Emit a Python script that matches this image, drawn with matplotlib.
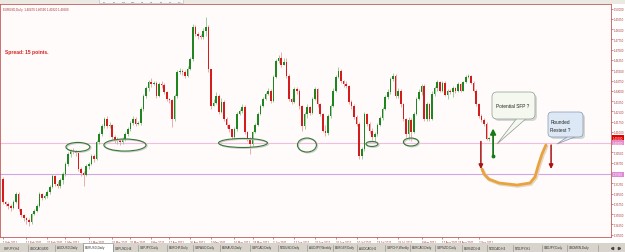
import numpy as np
import pandas as pd
import matplotlib
matplotlib.use('Agg')
from matplotlib import pyplot as plt
from matplotlib.patches import Ellipse, FancyBboxPatch, Rectangle, Polygon
import matplotlib.transforms as mtransforms

plt.rcParams['font.family'] = ['Liberation Sans', 'DejaVu Sans']

# EURUSD daily, Feb - Sep 2011 (broker with Sunday bars)
first_open = 1.3756
closes = [
    1.3588, 1.3574, 1.3559, 1.3545, 1.3588, 1.3647, 1.3537, 1.3490, 1.3470, 1.3460,
    1.3442, 1.3500, 1.3522, 1.3559, 1.3647, 1.3620, 1.3630, 1.3661, 1.3700, 1.3778,
    1.3720, 1.3705, 1.3750, 1.3793, 1.3866, 1.3939, 1.3960, 1.3953, 1.3945, 1.3829,
    1.3800, 1.3785, 1.3851, 1.3866, 1.3924, 1.3905, 1.4026, 1.4085, 1.4143, 1.4194,
    1.4143, 1.4150, 1.4063, 1.4033, 1.4040, 1.4026, 1.4048, 1.4085, 1.4121, 1.4165,
    1.4194, 1.4158, 1.4165, 1.4267, 1.4362, 1.4420, 1.4464, 1.4450, 1.4455, 1.4362,
    1.4450, 1.4440, 1.4391, 1.4340, 1.4330, 1.4194, 1.4362, 1.4537, 1.4545, 1.4537,
    1.4508, 1.4560, 1.4632, 1.4866, 1.4815, 1.4800, 1.4790, 1.4840, 1.4866, 1.4559,
    1.4290, 1.4310, 1.4360, 1.4245, 1.4320, 1.4194, 1.4150, 1.4120, 1.4063, 1.4120,
    1.4231, 1.4252, 1.4282, 1.4099, 1.4048, 1.4012, 1.4099, 1.4150, 1.4231, 1.4289,
    1.4340, 1.4377, 1.4398, 1.4325, 1.4501, 1.4617, 1.4640, 1.4590, 1.4610, 1.4508,
    1.4340, 1.4318, 1.4413, 1.4400, 1.4289, 1.4143, 1.4230, 1.4280, 1.4240, 1.4340,
    1.4413, 1.4300, 1.4231, 1.4110, 1.4090, 1.4216, 1.4289, 1.4400, 1.4501, 1.4544,
    1.4471, 1.4450, 1.4435, 1.4318, 1.4289, 1.4209, 1.4158, 1.3924, 1.3975, 1.4230,
    1.4158, 1.4110, 1.4063, 1.4085, 1.4150, 1.4200, 1.4267, 1.4355, 1.4391, 1.4486,
    1.4508, 1.4362, 1.4400, 1.4300, 1.4194, 1.4085, 1.4190, 1.4099, 1.4230, 1.4340,
    1.4391, 1.4435, 1.4194, 1.4304, 1.4194, 1.4380, 1.4420, 1.4464, 1.4400, 1.4460,
    1.4370, 1.4400, 1.4390, 1.4420, 1.4400, 1.4450, 1.4400, 1.4464, 1.4501, 1.4508,
    1.4460, 1.4400, 1.4304, 1.4216, 1.4190, 1.4158, 1.4047, 1.4058,
]
highs = [
    1.3770, 1.3595, 1.3590, 1.3575, 1.3600, 1.3660, 1.3660, 1.3540, 1.3500, 1.3480,
    1.3470, 1.3510, 1.3535, 1.3575, 1.3660, 1.3655, 1.3645, 1.3675, 1.3715, 1.3795,
    1.3785, 1.3740, 1.3765, 1.3810, 1.3880, 1.3955, 1.3975, 1.3985, 1.3970, 1.3955,
    1.3840, 1.3815, 1.3865, 1.3880, 1.3940, 1.3935, 1.4040, 1.4100, 1.4160, 1.4205,
    1.4215, 1.4170, 1.4160, 1.4075, 1.4060, 1.4050, 1.4065, 1.4100, 1.4135, 1.4180,
    1.4215, 1.4210, 1.4180, 1.4280, 1.4375, 1.4435, 1.4480, 1.4490, 1.4470, 1.4470,
    1.4465, 1.4470, 1.4455, 1.4400, 1.4350, 1.4340, 1.4375, 1.4555, 1.4565, 1.4560,
    1.4550, 1.4580, 1.4650, 1.4888, 1.4880, 1.4830, 1.4815, 1.4860, 1.4939, 1.4880,
    1.4560, 1.4340, 1.4390, 1.4380, 1.4345, 1.4330, 1.4210, 1.4160, 1.4120, 1.4135,
    1.4245, 1.4265, 1.4300, 1.4295, 1.4110, 1.4060, 1.4110, 1.4165, 1.4245, 1.4300,
    1.4355, 1.4390, 1.4420, 1.4410, 1.4515, 1.4630, 1.4660, 1.4683, 1.4640, 1.4640,
    1.4520, 1.4350, 1.4425, 1.4425, 1.4410, 1.4295, 1.4245, 1.4300, 1.4290, 1.4355,
    1.4430, 1.4420, 1.4310, 1.4240, 1.4150, 1.4230, 1.4300, 1.4420, 1.4515, 1.4570,
    1.4559, 1.4480, 1.4470, 1.4440, 1.4330, 1.4300, 1.4220, 1.4170, 1.3990, 1.4245,
    1.4240, 1.4170, 1.4130, 1.4100, 1.4165, 1.4215, 1.4285, 1.4370, 1.4410, 1.4500,
    1.4530, 1.4520, 1.4420, 1.4410, 1.4310, 1.4200, 1.4205, 1.4200, 1.4245, 1.4355,
    1.4410, 1.4450, 1.4450, 1.4320, 1.4310, 1.4395, 1.4435, 1.4480, 1.4475, 1.4475,
    1.4470, 1.4410, 1.4415, 1.4435, 1.4430, 1.4465, 1.4460, 1.4475, 1.4515, 1.4522,
    1.4515, 1.4470, 1.4410, 1.4310, 1.4230, 1.4200, 1.4170, 1.4059,
]
lows = [
    1.3575, 1.3560, 1.3540, 1.3520, 1.3540, 1.3580, 1.3525, 1.3480, 1.3450, 1.3430,
    1.3413, 1.3430, 1.3490, 1.3515, 1.3550, 1.3600, 1.3610, 1.3615, 1.3650, 1.3690,
    1.3705, 1.3690, 1.3690, 1.3720, 1.3780, 1.3850, 1.3920, 1.3935, 1.3925, 1.3815,
    1.3780, 1.3705, 1.3775, 1.3830, 1.3855, 1.3880, 1.3895, 1.4010, 1.4070, 1.4130,
    1.4130, 1.4125, 1.4050, 1.4020, 1.4010, 1.4005, 1.4015, 1.4035, 1.4070, 1.4110,
    1.4150, 1.4140, 1.4150, 1.4150, 1.4255, 1.4350, 1.4400, 1.4430, 1.4440, 1.4350,
    1.4355, 1.4420, 1.4380, 1.4325, 1.4310, 1.4136, 1.4180, 1.4350, 1.4520, 1.4515,
    1.4495, 1.4500, 1.4550, 1.4620, 1.4800, 1.4780, 1.4775, 1.4780, 1.4800, 1.4540,
    1.4270, 1.4290, 1.4300, 1.4230, 1.4240, 1.4180, 1.4130, 1.4100, 1.4048, 1.4055,
    1.4110, 1.4220, 1.4240, 1.4085, 1.4035, 1.3939, 1.4000, 1.4090, 1.4140, 1.4220,
    1.4280, 1.4330, 1.4370, 1.4310, 1.4320, 1.4490, 1.4600, 1.4575, 1.4590, 1.4490,
    1.4325, 1.4300, 1.4310, 1.4380, 1.4270, 1.4106, 1.4120, 1.4200, 1.4225, 1.4230,
    1.4330, 1.4285, 1.4215, 1.4100, 1.4070, 1.4080, 1.4200, 1.4280, 1.4390, 1.4490,
    1.4460, 1.4430, 1.4420, 1.4300, 1.4270, 1.4195, 1.4140, 1.3902, 1.3905, 1.3960,
    1.4140, 1.4090, 1.4040, 1.4026, 1.4070, 1.4140, 1.4190, 1.4260, 1.4340, 1.4380,
    1.4470, 1.4350, 1.4350, 1.4285, 1.4180, 1.4060, 1.4040, 1.4030, 1.4090, 1.4220,
    1.4330, 1.4370, 1.4180, 1.4180, 1.4180, 1.4185, 1.4360, 1.4400, 1.4390, 1.4390,
    1.4360, 1.4340, 1.4375, 1.4355, 1.4385, 1.4390, 1.4390, 1.4395, 1.4455, 1.4490,
    1.4450, 1.4390, 1.4290, 1.4200, 1.4170, 1.4140, 1.4040, 1.4032,
]

date_labels = ['1 Feb 2011', '11 Feb 2011', '21 Feb 2011', '1 Mar 2011', '11 Mar 2011',
               '22 Mar 2011', '30 Mar 2011', '8 Apr 2011', '17 Apr 2011', '26 Apr 2011',
               '5 May 2011', '16 May 2011', '24 May 2011', '2 Jun 2011', '12 Jun 2011',
               '21 Jun 2011', '30 Jun 2011', '10 Jul 2011', '19 Jul 2011', '28 Jul 2011',
               '8 Aug 2011', '17 Aug 2011', '24 Aug 2011', '2 Sep 2011']
price_ticks = [round(1.5000 - 0.0075 * k, 4) for k in range(23)]
hlines = [(1.4020, '#f2bede', '#e68ccb'), (1.3790, '#cfa6e6', '#e08ad6')]
last_price = 1.4058
header = 'EURUSD,Daily  1.40470 1.40590 1.40320 1.40580'
spread_text = 'Spread: 15 points.'

tabs = ['CHFJPY,H4', 'USDCAD,M30', 'AUDUSD,Daily', 'EURUSD,Daily', 'GBPUSD,H4',
        'GBPJPY,Daily', 'EURCHF,Daily', 'GBPAUD,Daily', 'EURAUD,Daily', 'GBPCAD,Daily',
        'NZDUSD,Daily', 'AUDJPY,Weekly', 'EURGBP,Daily', 'AUDCAD,H1', 'GBPCHF,Weekly',
        'EURCAD,Daily', 'GBPNZD,Daily', 'EURNZD,H4', 'NZDCAD,H4', 'NZDJPY,H1',
        'CADJPY,Daily', 'USDMXN,Daily']
tab_edges = [2, 28, 55, 83, 113, 138, 167, 193, 220, 250, 278, 307, 333, 357, 385, 410,
             435, 462, 487, 513, 542, 567, 598]
periods = ['M1', 'M5', 'M15', 'M30', 'H1', 'H4', 'D1', 'W1', 'MN']

# drawings on the chart (bar index, price)
ellipses = [(28.8, 1.3990, 9.2, 0.0066), (46.9, 1.4004, 16.2, 0.0088),
            (92.3, 1.4019, 18.8, 0.0066), (116.9, 1.4004, 7.3, 0.0102),
            (141.9, 1.4012, 4.6, 0.0037), (156.9, 1.4026, 5.8, 0.0058)]
orange_x = [184.2, 185.0, 186.8, 190.8, 197.7, 202.7, 204.6, 205.8, 207.3, 208.8]
orange_y = [1.3829, 1.3793, 1.3756, 1.3727, 1.3712, 1.3727, 1.3771, 1.3851, 1.3939, 1.4004]

W, H = 625, 253
fig = plt.figure(figsize=(W / 100, H / 100), dpi=100)
fig.patch.set_facecolor('#ffffff')

frame_col = '#c05a5a'
txt_col = '#a83232'
ax = fig.add_axes([0, 15 / H, 611 / W, 233 / H])
ax.set_facecolor('#fffbfb')
for s in ax.spines.values():
    s.set_color(frame_col)
    s.set_linewidth(0.6)

o = np.concatenate([[first_open], np.array(closes[:-1])])
c = np.array(closes)
hi = np.maximum(np.array(highs), np.maximum(o, c))
lo = np.minimum(np.array(lows), np.minimum(o, c))
idx = np.arange(len(c))
up = c >= o

for y, col, _ in hlines:
    ax.axhline(y, color=col, lw=0.8, zorder=1)

ax.vlines(idx[up], lo[up], hi[up], color='#94c294', lw=0.6, zorder=2)
ax.vlines(idx[~up], lo[~up], hi[~up], color='#e8a0a0', lw=0.6, zorder=2)
body = np.maximum(np.abs(c - o), 0.0003)
bot = np.minimum(o, c)
ax.bar(idx[up], body[up], bottom=bot[up], width=0.62, color='#1f861f', linewidth=0, zorder=3)
ax.bar(idx[~up], body[~up], bottom=bot[~up], width=0.62, color='#d41c1c', linewidth=0, zorder=3)

for cx, cy, w, h in ellipses:
    ax.add_patch(Ellipse((cx + 0.4, cy - 0.0006), w, h, fill=False, ec='#c9cfc9', lw=0.9, zorder=4))
    ax.add_patch(Ellipse((cx, cy), w, h, fill=False, ec='#3a763a', lw=0.8, zorder=5))

ax.plot(np.array(orange_x) + 0.4, np.array(orange_y) - 0.0008, color='#e6d6c0', lw=2.4, zorder=5,
        solid_capstyle='round')
ax.plot(orange_x, orange_y, color='#e9a240', lw=2.0, zorder=6, solid_capstyle='round')

arrow_red = dict(arrowstyle='-|>', color='#a81212', lw=1.1, mutation_scale=6, shrinkA=0, shrinkB=0)
ax.annotate('', xy=(183.8, 1.3829), xytext=(183.8, 1.4030), arrowprops=arrow_red, zorder=7)
ax.annotate('', xy=(210.8, 1.3829), xytext=(210.8, 1.4004), arrowprops=arrow_red, zorder=7)
ax.annotate('', xy=(188.5, 1.4125), xytext=(188.5, 1.3924),
            arrowprops=dict(arrowstyle='-|>', color='#177a17', lw=1.3, mutation_scale=8,
                            shrinkA=0, shrinkB=0), zorder=7)
ax.plot([188.5], [1.3924], 'o', ms=1.8, color='#177a17', zorder=7)

ax.set_xlim(-3 / 2.6, 608 / 2.6)
ax.set_ylim(1.5070 - 0.00073 * 238, 1.5070 - 0.00073 * 5)

# price scale on the right
ax.yaxis.tick_right()
ax.set_yticks(price_ticks)
ax.set_yticklabels([f'{v:.5f}' for v in price_ticks])
ax.tick_params(axis='y', labelsize=2.0, colors=txt_col, length=1.2, width=0.4, pad=0.6)

dates = pd.bdate_range('2011-02-01', periods=len(c), freq='C', weekmask='Sun Mon Tue Wed Thu Fri')
tick_pos = [dates.get_indexer([pd.Timestamp(d)], method='nearest')[0] for d in date_labels]
ax.set_xticks(tick_pos)
ax.set_xticklabels(date_labels)
ax.tick_params(axis='x', labelsize=2.0, colors=txt_col, length=1.5, width=0.4, pad=0.8)
for lbl in ax.get_xticklabels():
    lbl.set_ha('left')

# price boxes on the axis
trans = mtransforms.blended_transform_factory(ax.transAxes, ax.transData)
for y, _, box in hlines:
    ax.text(1.003, y, f'{y:.5f}', transform=trans, fontsize=2.0, color='white', va='center',
            ha='left', clip_on=False, bbox=dict(fc=box, ec='none', pad=0.4))
ax.text(1.003, last_price, f'{last_price:.5f}', transform=trans, fontsize=2.0, color='white',
        va='center', ha='left', clip_on=False, bbox=dict(fc='#e00000', ec='none', pad=0.4))

# overlay in pixel space for the terminal chrome and callouts
ov = fig.add_axes([0, 0, 1, 1], zorder=10)
ov.set_xlim(0, W)
ov.set_ylim(H, 0)
ov.axis('off')
ov.patch.set_alpha(0)

ov.add_patch(Rectangle((0, 0), W, 4.5, fc='#ece9e2', ec='none'))
ov.add_patch(Rectangle((99, 0), 84, 4.2, fc='#f7f7f7', ec='#b8b8b8', lw=0.4))
for k, p in enumerate(periods):
    ov.text(103 + k * 9.4, 2.2, p, fontsize=1.6, color='#555555', va='center', ha='left')

ov.text(3, 9.5, header, fontsize=2.1, color=txt_col, va='center', ha='left')
ov.text(5, 52.5, spread_text, fontsize=3.6, color='#d42020', va='center', ha='left',
        fontweight='bold')

# Potential SFP callout
ov.add_patch(FancyBboxPatch((494, 95), 43, 27, boxstyle='round,pad=0,rounding_size=5',
                            fc='#d6d6d6', ec='none'))
ov.add_patch(Polygon([(517, 119), (528, 118), (497, 145)], closed=True, fc='#f4f8ee',
                     ec='#8f9a8f', lw=0.5))
ov.add_patch(FancyBboxPatch((492, 93), 43, 27, boxstyle='round,pad=0,rounding_size=5',
                            fc='#f4f8ee', ec='#8f9a8f', lw=0.5))
ov.text(496, 107, 'Potential SFP ?', fontsize=3.4, color='#222222', va='center', ha='left')

# Rounded retest callout
ov.add_patch(FancyBboxPatch((550, 115), 35, 25, boxstyle='round,pad=0,rounding_size=4',
                            fc='#d6d6d6', ec='none'))
ov.add_patch(Polygon([(570, 136), (580, 136), (557, 145)], closed=True, fc='#dde8f6',
                     ec='#8795a8', lw=0.5))
ov.add_patch(FancyBboxPatch((548, 113), 35, 25, boxstyle='round,pad=0,rounding_size=4',
                            fc='#dde8f6', ec='#8795a8', lw=0.5))
ov.text(550.5, 122, 'Rounded', fontsize=3.4, color='#222222', va='center', ha='left')
ov.text(550.5, 130, 'Restest ?', fontsize=3.4, color='#222222', va='center', ha='left')

# tab bar
ov.add_patch(Rectangle((0, 244), W, 9, fc='#d8d4cc', ec='none'))
for k, name in enumerate(tabs):
    x0, x1 = tab_edges[k], tab_edges[k + 1]
    if name == 'EURUSD,Daily':
        ov.add_patch(Rectangle((x0, 244), x1 - x0, 8.5, fc='#ffffff', ec='#808080', lw=0.4))
    ov.plot([x1, x1], [245.5, 251.5], color='#8a8a8a', lw=0.4)
    ov.text(x0 + 2, 248.5, name, fontsize=2.2, color='#333333', va='center', ha='left')
ov.plot([612], [248.5], marker='<', ms=1.6, color='#444444')
ov.plot([619], [248.5], marker='>', ms=1.6, color='#444444')

fig.savefig('out.png', dpi=100)
